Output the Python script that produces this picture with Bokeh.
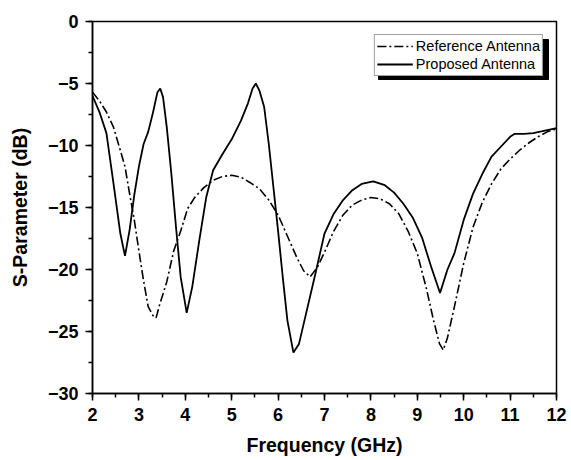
from bokeh.plotting import figure
from bokeh.models import Legend, LegendItem, Range1d, SingleIntervalTicker
from bokeh.embed import file_html
from bokeh.resources import INLINE

# Proposed antenna (solid)
freq_prop = [2.0, 2.15, 2.3, 2.45, 2.6, 2.7, 2.8, 2.9, 3.0, 3.1, 3.2, 3.3, 3.4, 3.46, 3.52,
             3.6, 3.7, 3.8, 3.9, 4.03, 4.15, 4.3, 4.45, 4.6, 4.8, 5.0, 5.2, 5.35, 5.45, 5.52,
             5.6, 5.7, 5.8, 5.9, 6.0, 6.1, 6.2, 6.33, 6.45, 6.6, 6.8, 7.0, 7.2, 7.4, 7.6,
             7.8, 8.05, 8.3, 8.5, 8.7, 8.9, 9.1, 9.3, 9.49, 9.65, 9.8, 10.0, 10.2, 10.4,
             10.6, 10.8, 11.0, 11.1, 11.3, 11.5, 11.7, 12.0]
s_prop = [-6.0, -7.3, -9.0, -13.0, -17.1, -18.9, -16.8, -14.0, -11.7, -9.9, -8.9, -7.4, -5.7, -5.4, -6.1,
          -8.5, -12.3, -16.6, -20.6, -23.5, -21.4, -17.7, -14.2, -12.0, -10.7, -9.5, -8.0, -6.6, -5.4, -5.0,
          -5.6, -6.9, -9.9, -13.4, -16.9, -20.6, -24.1, -26.7, -26.0, -23.6, -20.4, -17.1, -15.5, -14.4, -13.6,
          -13.1, -12.9, -13.2, -13.8, -14.7, -15.8, -17.4, -19.8, -21.9, -20.0, -18.7, -16.0, -13.9, -12.3,
          -10.9, -10.1, -9.3, -9.06, -9.06, -9.0, -8.85, -8.6]

# Reference antenna (dash-dot)
freq_ref = [2.0, 2.15, 2.3, 2.45, 2.6, 2.7, 2.8, 2.9, 3.0, 3.1, 3.2, 3.3, 3.37, 3.45, 3.6, 3.75,
            3.9, 4.05, 4.2, 4.4, 4.6, 4.8, 5.0, 5.2, 5.4, 5.6, 5.8, 6.0, 6.2, 6.4, 6.55, 6.69,
            6.85, 7.0, 7.2, 7.4, 7.6, 7.8, 8.0, 8.2, 8.4, 8.6, 8.8, 9.0, 9.2, 9.35, 9.48, 9.56,
            9.65, 9.8, 10.0, 10.2, 10.4, 10.6, 10.8, 11.0, 11.2, 11.4, 11.6, 11.8, 12.0]
s_ref = [-5.7, -6.4, -7.3, -8.5, -10.4, -11.7, -13.9, -16.0, -18.5, -20.9, -23.0, -23.7, -23.9, -22.8, -21.0, -18.5,
         -16.9, -15.1, -14.2, -13.4, -12.8, -12.5, -12.4, -12.55, -13.0, -13.5, -14.4, -15.6, -17.3, -19.0, -20.1, -20.6,
         -19.8, -18.6, -16.9, -15.6, -14.8, -14.4, -14.2, -14.3, -14.7, -15.5, -16.9, -18.7, -21.6, -24.1, -26.0, -26.5,
         -25.5, -23.0, -19.5, -16.6, -14.6, -13.1, -11.9, -11.1, -10.4, -9.8, -9.3, -8.9, -8.66]

series_labels = ["Reference Antenna", "Proposed Antenna"]
x_label = "Frequency (GHz)"
y_label = "S-Parameter (dB)"

FONT = "Liberation Sans"
W, H = 568, 460
BL, BR, BT, BB = 92, 12, 21, 67
frame_w = W - BL - BR
frame_h = H - BT - BB

p = figure(width=W, height=H, output_backend="svg", toolbar_location=None,
           x_range=Range1d(2, 12), y_range=Range1d(-30, 0),
           min_border_left=BL, min_border_right=BR, min_border_top=BT, min_border_bottom=BB)
p.xgrid.visible = False
p.ygrid.visible = False
p.outline_line_color = "black"
p.outline_line_width = 1.5
p.outline_line_alpha = 1.0

p.xaxis.ticker = SingleIntervalTicker(interval=1, num_minor_ticks=2)
p.yaxis.ticker = SingleIntervalTicker(interval=5, num_minor_ticks=2)
for ax in (p.xaxis, p.yaxis):
    ax.axis_line_color = "black"
    ax.axis_line_width = 1.5
    ax.major_tick_line_color = "black"
    ax.major_tick_line_width = 1.5
    ax.minor_tick_line_color = "black"
    ax.minor_tick_line_width = 1.5
    ax.major_tick_in = 0
    ax.major_tick_out = 7
    ax.minor_tick_in = 0
    ax.minor_tick_out = 4
    ax.major_label_text_font = FONT
    ax.major_label_text_font_style = "bold"
    ax.major_label_text_font_size = "18px"
    ax.major_label_text_color = "black"
    ax.axis_label_text_font = FONT
    ax.axis_label_text_font_style = "bold"
    ax.axis_label_text_font_size = "19.5px"
    ax.axis_label_text_color = "black"
p.xaxis.axis_label = x_label
p.yaxis.axis_label = y_label
p.xaxis.major_label_standoff = 7
p.yaxis.major_label_standoff = 7
p.xaxis.axis_label_standoff = 10
p.yaxis.axis_label_standoff = 14

r_ref = p.line(freq_ref, s_ref, line_color="black", line_width=1.6, line_dash="9 3 2 3")
r_prop = p.line(freq_prop, s_prop, line_color="black", line_width=1.8)

# legend drop shadow (legend box sits 13px from frame top-right, ~170x40, shadow offset 5px)
px_x = 10 / frame_w
px_y = 30 / frame_h
lg_w, lg_h, lg_m, off = 170, 40, 13, 5
p.quad(left=[12 - (lg_m + lg_w - off) * px_x], right=[12 - (lg_m - off) * px_x],
       top=[-(lg_m + off) * px_y], bottom=[-(lg_m + lg_h + off) * px_y],
       fill_color="black", line_color="black")

legend = Legend(items=[LegendItem(label=series_labels[0], renderers=[r_ref]),
                       LegendItem(label=series_labels[1], renderers=[r_prop])],
                location="top_right", margin=lg_m, padding=2, spacing=0,
                glyph_width=36, glyph_height=18, label_height=18, label_standoff=3,
                label_text_font=FONT, label_text_font_size="14.5px", label_text_color="black",
                border_line_color="#444444", border_line_width=1,
                background_fill_color="white", background_fill_alpha=1.0)
p.add_layout(legend)

open("out.html", "w").write(file_html(p, INLINE))
